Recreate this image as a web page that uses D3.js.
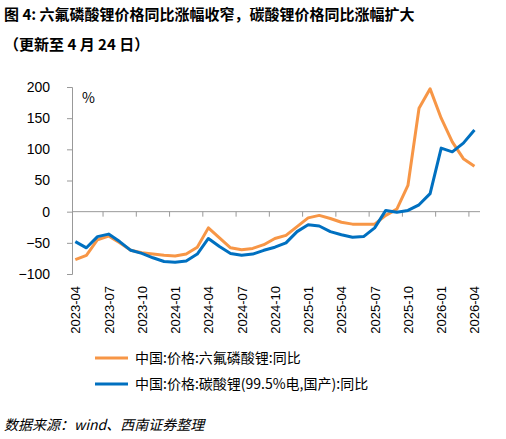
<!DOCTYPE html>
<html><head><meta charset="utf-8">
<script src="https://cdn.jsdelivr.net/npm/d3@7"></script>
<style>body{margin:0;background:#fff;} text{font-family:"Noto Sans CJK SC","Noto Sans",sans-serif;}</style>
</head><body><svg id="c" width="506" height="439"></svg>
<script>
var months = [];
for (var yy = 2023; yy <= 2026; yy++) for (var mm = 1; mm <= 12; mm++) {
    if ((yy == 2023 && mm < 4) || (yy == 2026 && mm > 4)) continue;
    months.push(yy + "-" + (mm < 10 ? "0" + mm : mm));
}
var lipf6 = [-77,-70,-45,-39,-50,-62,-66,-68,-70,-71,-68,-57,-26,-42,-58,-61,-59,-53,-43,-38,-24,-10,-6,-11,-17,-20,-20,-20,-6,4,42,166,197,150,112,85,73];
var li2co3 = [-48,-58,-40,-36,-48,-62,-67,-74,-80,-81,-79,-68,-43,-56,-67,-70,-68,-62,-57,-50,-32,-21,-23,-32,-37,-41,-40,-26,2,-1,2,11,29,102,96,110,131];
var yTicks = [-100,-50,0,50,100,150,200];
var seriesNames = ["中国:价格:六氟磷酸锂:同比", "中国:价格:碳酸锂(99.5%电,国产):同比"];
var colors = ["#f79646", "#0070c0"];

var svg = d3.select("#c");
var x = d3.scaleLinear().domain([-0.3, 36.5]).range([72, 480]);
var y = d3.scaleLinear().domain([-100, 200]).range([274, 87]);

svg.append("text").attr("x", 4).attr("y", 20).attr("font-size", 15).attr("font-weight", "bold")
    .text("图 4: 六氟磷酸锂价格同比涨幅收窄，碳酸锂价格同比涨幅扩大");
svg.append("text").attr("x", 4).attr("y", 50).attr("font-size", 15).attr("font-weight", "bold")
    .text("（更新至 4 月 24 日）");

// y axis
var ya = svg.append("g").attr("transform", "translate(72,0)")
    .call(d3.axisLeft(y).tickValues(yTicks).tickSize(5));
ya.select(".domain").attr("stroke", "#999");
ya.selectAll(".tick line").attr("stroke", "#999");
ya.selectAll("text").attr("font-size", 14).attr("fill", "#000").attr("x", -22)
    .style("font-family", "Arial, 'Liberation Sans', sans-serif");
svg.append("text").attr("x", 82).attr("y", 103).attr("font-size", 14).text("%");

// x axis at zero
var xa = svg.append("g").attr("transform", "translate(0," + y(0) + ")");
xa.append("line").attr("x1", 72).attr("x2", 480).attr("stroke", "#999");
var tickPos = d3.range(2.5, 37, 3);
xa.selectAll(".t").data(tickPos).enter().append("line")
    .attr("x1", function(d) { return x(d); }).attr("x2", function(d) { return x(d); })
    .attr("y1", 0).attr("y2", 5).attr("stroke", "#999");

var labelIdx = d3.range(0, 37, 3);
svg.selectAll(".xl").data(labelIdx).enter().append("text")
    .attr("transform", function(d) { return "translate(" + (x(d) + 5) + ",286) rotate(-90)"; })
    .attr("text-anchor", "end").attr("font-size", 13)
    .style("font-family", "Arial, 'Liberation Sans', sans-serif")
    .text(function(d) { return months[d]; });

var line = d3.line().x(function(d, i) { return x(i); }).y(function(d) { return y(d); });
[lipf6, li2co3].forEach(function(s, k) {
    svg.append("path").datum(s).attr("d", line).attr("fill", "none")
        .attr("stroke", colors[k]).attr("stroke-width", 3).attr("stroke-linejoin", "round");
});

// legend
seriesNames.forEach(function(n, k) {
    var ly = 358 + k * 26;
    svg.append("line").attr("x1", 95).attr("x2", 128).attr("y1", ly).attr("y2", ly)
        .attr("stroke", colors[k]).attr("stroke-width", 3);
    svg.append("text").attr("x", 135).attr("y", ly + 5).attr("font-size", 14).text(n);
});

svg.append("text").attr("x", 4).attr("y", 430).attr("font-size", 14).attr("font-style", "italic")
    .text("数据来源：wind、西南证券整理");
</script></body></html>
